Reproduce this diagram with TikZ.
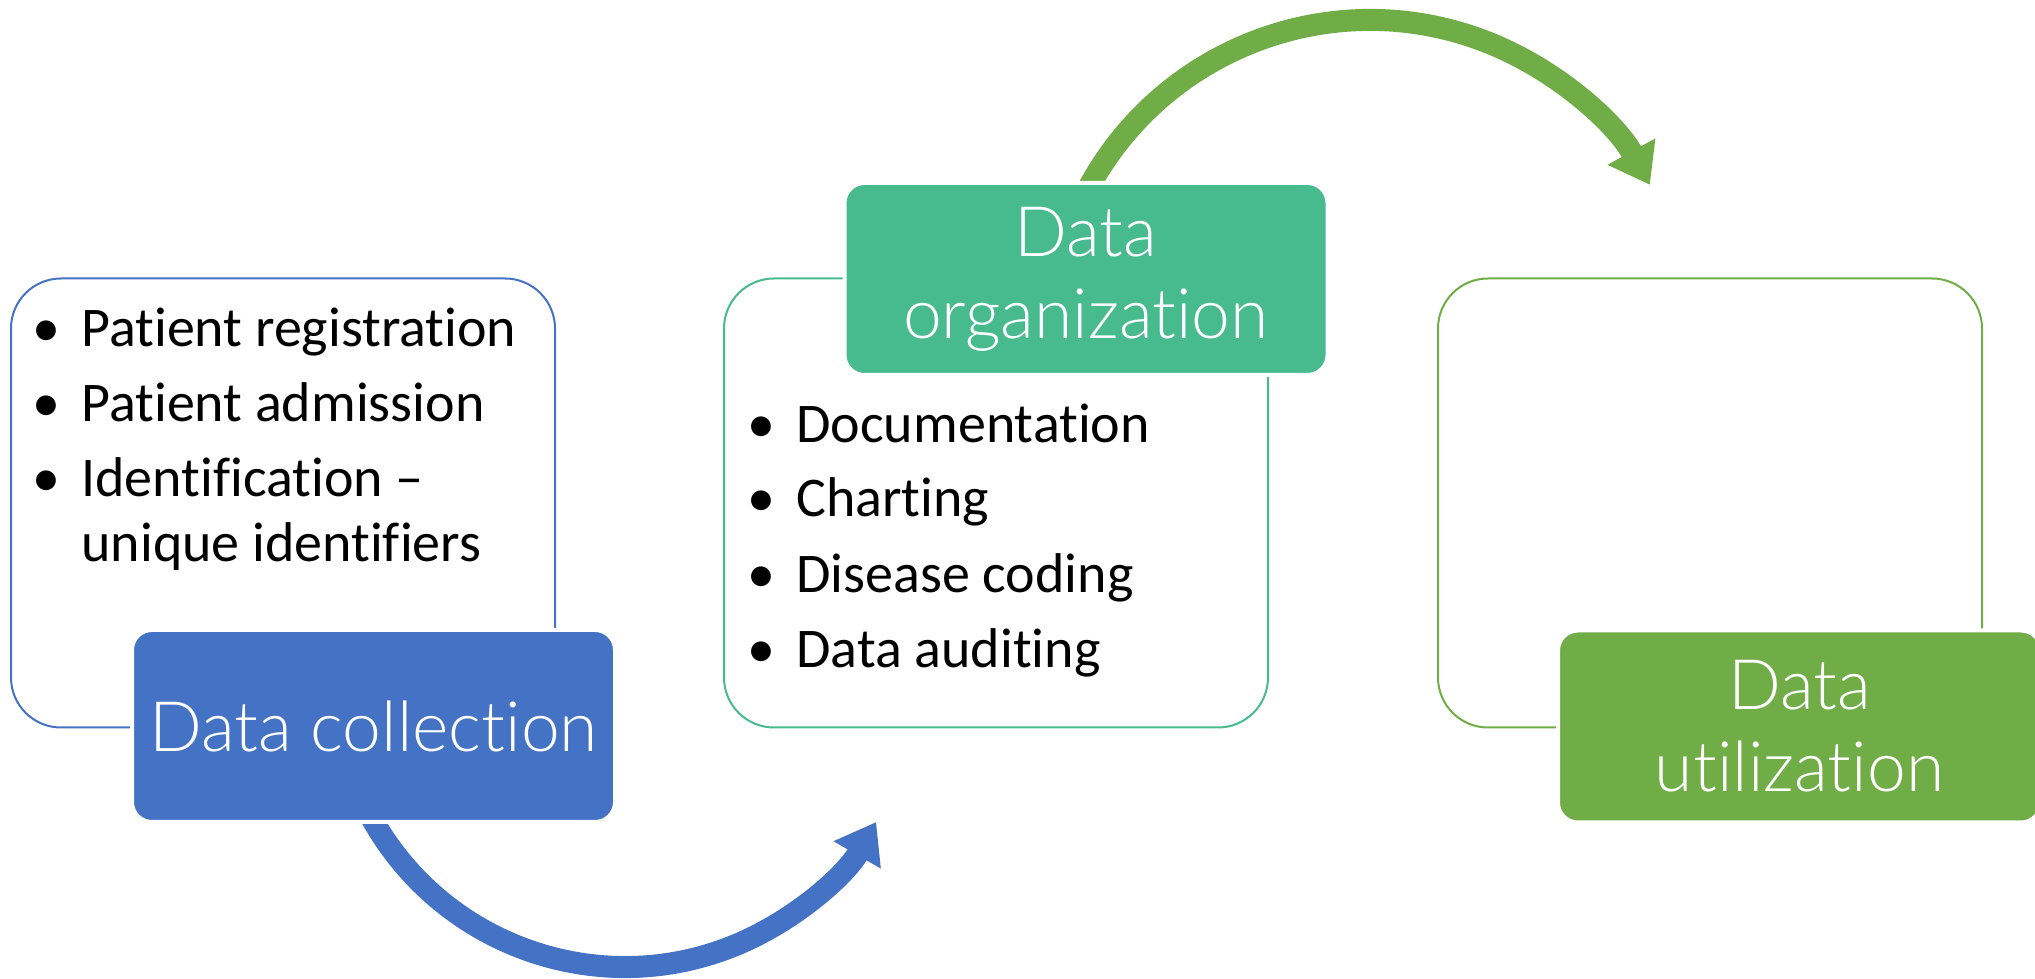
\documentclass[tikz,border=0pt]{standalone}
\usepackage{fontspec}
\setmainfont{Carlito}[Ligatures={TeX,NoCommon}]
\IfFontExistsTF{Lato Light}{\newfontfamily\hdfont{Lato Light}[Ligatures={TeX,NoCommon}]}{\newfontfamily\hdfont{Carlito}[Ligatures={TeX,NoCommon}]}
\usetikzlibrary{arrows.meta}
\definecolor{cblue}{HTML}{4472C4}
\definecolor{cteal}{RGB}{71,186,142}
\definecolor{cgreen}{HTML}{70AD47}
\begin{document}
\begin{tikzpicture}[x=0.5pt,y=0.5pt,
  outline/.style={draw=#1, line width=1pt, rounded corners=25pt, minimum width=272pt, minimum height=224.5pt, inner sep=0pt},
  header/.style={fill=#1, draw=white, line width=2pt, rounded corners=10pt, minimum width=241.5pt, minimum height=96pt, inner sep=0pt, text=white, align=center, font=\hdfont\fontsize{34.8}{41}\selectfont},
  item/.style={anchor=base west, inner sep=0pt, font=\fontsize{28}{32.5}\selectfont},
  flow/.style={line width=11pt, draw=#1, -{Triangle[width=26pt,length=19pt]}}
]
\useasboundingbox (0,0) rectangle (2035,979);
% outline boxes
\node[outline=cblue]  (b1) at (283,476) {};
\node[outline=cteal]  (b2) at (996,476) {};
\node[outline=cgreen] (b3) at (1710,476) {};
% list texts
\newcommand{\bul}{\makebox[24.5pt][l]{•}}
\node[item] (p1) at (32,632) {\bul Patient registration};
\node[item] (p2) at (32,557) {\bul Patient admission};
\node[item] (p3) at (32,482) {\bul Identification –};
\node[item] (p4) at (81,417) {unique identifiers};
\node[item] (q1) at (747,536) {\bul Documentation};
\node[item] (q2) at (747,462) {\bul Charting};
\node[item] (q3) at (747,386) {\bul Disease coding};
\node[item] (q4) at (747,311) {\bul Data auditing};
% arcs
\coordinate (c1) at (625,302);
\coordinate (c2) at (1370,639);
\draw[flow=cblue] (c1) ++(205:145pt) arc[start angle=205, end angle=330, radius=145pt];
\draw[flow=cgreen] (c2) ++(155:160pt) arc[start angle=155, end angle=29, radius=160pt];
% headers
\node[header=cblue]  (h1) at (373.5,253) {Data collection};
\node[header=cteal]  (h2) at (1086,700) {Data\\organization};
\node[header=cgreen] (h3) at (1799.5,252.5) {Data\\utilization};
\end{tikzpicture}
\end{document}
